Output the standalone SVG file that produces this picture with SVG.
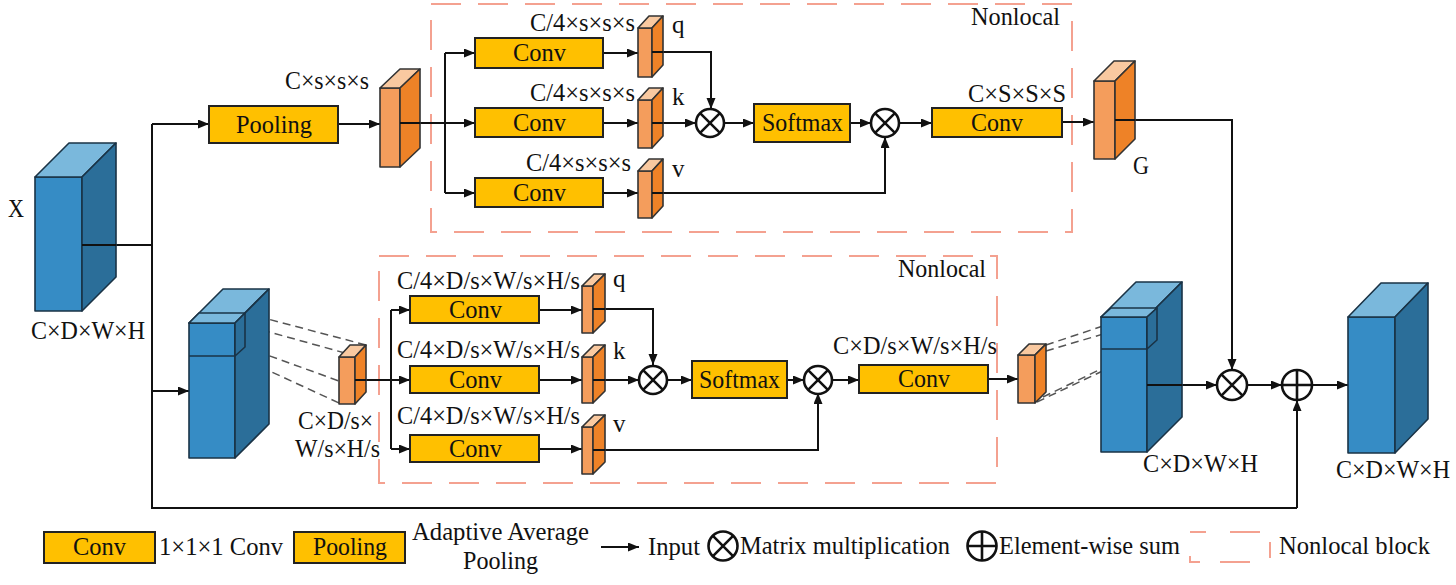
<svg xmlns="http://www.w3.org/2000/svg" width="1456" height="585" viewBox="0 0 1456 585">
<style>
.t{font-family:"Liberation Serif","Times New Roman",serif;font-size:25px;fill:#111}
.box{fill:#FFC000;stroke:#222;stroke-width:2}
.cf{fill:#368CC5;stroke:#1a3346;stroke-width:1.6;stroke-linejoin:round}
.ct{fill:#7AB8DC;stroke:#1a3346;stroke-width:1.6;stroke-linejoin:round}
.cs{fill:#2B6E99;stroke:#1a3346;stroke-width:1.6;stroke-linejoin:round}
.sf{fill:#F49D5C;stroke:#333;stroke-width:1.6;stroke-linejoin:round}
.st{fill:#F9C9A0;stroke:#333;stroke-width:1.6;stroke-linejoin:round}
.ss{fill:#EE8227;stroke:#333;stroke-width:1.6;stroke-linejoin:round}
.ln{fill:none;stroke:#111;stroke-width:2}
.ar{fill:none;stroke:#111;stroke-width:2;marker-end:url(#ah)}
.op{fill:#fff;stroke:#111;stroke-width:2.6}
.nl{fill:none;stroke:#F4A190;stroke-width:2;stroke-dasharray:30 17}
.gd{fill:none;stroke:#555;stroke-width:1.5;stroke-dasharray:8 5}
</style>
<defs>
<marker id="ah" markerWidth="12" markerHeight="10" refX="11" refY="4.5" orient="auto" markerUnits="userSpaceOnUse">
<path d="M0,0 L11,4.5 L0,9 z" fill="#111"/>
</marker>
</defs>
<rect width="1456" height="585" fill="#fff"/>

<!-- nonlocal blocks -->
<g id="nonlocal-top">
<rect class="nl" x="431" y="4" width="641" height="228"/>
<text class="t" x="971" y="25" textLength="89" lengthAdjust="spacingAndGlyphs">Nonlocal</text>
</g>
<g id="nonlocal-bottom">
<rect class="nl" x="379" y="256" width="618" height="227"/>
<text class="t" x="898" y="277" textLength="88" lengthAdjust="spacingAndGlyphs">Nonlocal</text>
</g>

<!-- connectors -->
<g id="connectors">
<path class="ln" d="M82,245 H152 M152,124 V508 H1297"/>
<path class="ar" d="M152,124 H209"/>
<path class="ar" d="M338,124 H380"/>
<path class="ln" d="M400,123 H445 M445,53 V193"/>
<path class="ar" d="M445,53 H475"/>
<path class="ar" d="M445,123 H475"/>
<path class="ar" d="M445,193 H475"/>
<path class="ar" d="M603,53 H638"/>
<path class="ar" d="M603,123 H638"/>
<path class="ar" d="M603,193 H638"/>
<path class="ar" d="M652,52 H711 V109"/>
<path class="ar" d="M652,123 H696"/>
<path class="ar" d="M724,123 H754"/>
<path class="ar" d="M850,123 H871"/>
<path class="ar" d="M652,193 H885 V137"/>
<path class="ar" d="M899,123 H932"/>
<path class="ar" d="M1062,122 H1094"/>
<path class="ar" d="M1115,120 H1232 V370"/>
<path class="ar" d="M152,391 H189"/>
<path class="ln" d="M355,380 H391 M391,310 V449"/>
<path class="ar" d="M391,310 H410"/>
<path class="ar" d="M391,380 H410"/>
<path class="ar" d="M391,449 H410"/>
<path class="ar" d="M539,310 H582"/>
<path class="ar" d="M539,380 H582"/>
<path class="ar" d="M539,449 H582"/>
<path class="ar" d="M593,309 H653 V365"/>
<path class="ar" d="M593,380 H639"/>
<path class="ar" d="M667,380 H692"/>
<path class="ar" d="M787,380 H804"/>
<path class="ar" d="M593,450 H818 V393"/>
<path class="ar" d="M832,380 H859"/>
<path class="ar" d="M988,379 H1018"/>
<path class="ar" d="M1147,385 H1217"/>
<path class="ar" d="M1247,385 H1282"/>
<path class="ar" d="M1312,385 H1348"/>
<path class="ar" d="M1297,508 V400"/>
<path class="gd" d="M245,313 L366,345 M237,323 L352,355 M245,347 L339,381 M237,356 L339,403"/>
<path class="gd" d="M1046,345 L1157,308 M1046,351 L1157,318 M1037,402 L1147,350 M1043,397 L1157,342"/>
</g>

<!-- input cube X -->
<g id="cube-x">
<rect class="cf" x="35" y="177" width="47" height="134"/>
<polygon class="ct" points="35,177 82,177 116,143 69,143"/>
<polygon class="cs" points="82,177 116,143 116,277 82,311"/>
<line class="ln" x1="82" y1="245" x2="116" y2="245"/>
<text class="t" x="8" y="217" textLength="16" lengthAdjust="spacingAndGlyphs">X</text>
<text class="t" x="31" y="339" textLength="114" lengthAdjust="spacingAndGlyphs">C×D×W×H</text>
</g>

<!-- top branch -->
<g id="pooling">
<rect class="box" x="209" y="106" width="129" height="37"/>
<text class="t" x="236" y="133" textLength="76" lengthAdjust="spacingAndGlyphs">Pooling</text>
</g>
<g id="pooled-top">
<rect class="sf" x="380" y="88" width="20" height="79"/>
<polygon class="st" points="380,88 400,88 420,69 400,69"/>
<polygon class="ss" points="400,88 420,69 420,148 400,167"/>
<line class="ln" x1="400" y1="123" x2="420" y2="123"/>
<text class="t" x="285" y="89" textLength="84" lengthAdjust="spacingAndGlyphs">C×s×s×s</text>
</g>
<g id="conv-q-top">
<rect class="box" x="475" y="38" width="128" height="30"/>
<text class="t" x="513" y="61" textLength="53" lengthAdjust="spacingAndGlyphs">Conv</text>
</g>
<g id="conv-k-top">
<rect class="box" x="475" y="108" width="128" height="29"/>
<text class="t" x="513" y="131" textLength="53" lengthAdjust="spacingAndGlyphs">Conv</text>
</g>
<g id="conv-v-top">
<rect class="box" x="475" y="178" width="128" height="29"/>
<text class="t" x="513" y="201" textLength="53" lengthAdjust="spacingAndGlyphs">Conv</text>
</g>
<g id="q-top">
<rect class="sf" x="638" y="28" width="14" height="49"/>
<polygon class="st" points="638,28 652,28 663,16 649,16"/>
<polygon class="ss" points="652,28 663,16 663,65 652,77"/>
<line class="ln" x1="652" y1="52" x2="663" y2="52"/>
<text class="t" x="530" y="31" textLength="105" lengthAdjust="spacingAndGlyphs">C/4×s×s×s</text>
<text class="t" x="672" y="33">q</text>
</g>
<g id="k-top">
<rect class="sf" x="638" y="100" width="14" height="48"/>
<polygon class="st" points="638,100 652,100 663,88 649,88"/>
<polygon class="ss" points="652,100 663,88 663,136 652,148"/>
<line class="ln" x1="652" y1="123" x2="663" y2="123"/>
<text class="t" x="530" y="101" textLength="105" lengthAdjust="spacingAndGlyphs">C/4×s×s×s</text>
<text class="t" x="672" y="105">k</text>
</g>
<g id="v-top">
<rect class="sf" x="638" y="171" width="14" height="47"/>
<polygon class="st" points="638,171 652,171 663,159 649,159"/>
<polygon class="ss" points="652,171 663,159 663,206 652,218"/>
<line class="ln" x1="652" y1="193" x2="663" y2="193"/>
<text class="t" x="526" y="171" textLength="105" lengthAdjust="spacingAndGlyphs">C/4×s×s×s</text>
<text class="t" x="672" y="177">v</text>
</g>
<g id="mul1-top">
<circle class="op" cx="710" cy="123" r="14"/>
<path class="ln" d="M700.1,113.1 L719.9,132.9 M719.9,113.1 L700.1,132.9" style="stroke-width:2.6"/>
</g>
<g id="softmax-top">
<rect class="box" x="754" y="104" width="96" height="38"/>
<text class="t" x="762" y="131" textLength="81" lengthAdjust="spacingAndGlyphs">Softmax</text>
</g>
<g id="mul2-top">
<circle class="op" cx="885" cy="123" r="14"/>
<path class="ln" d="M875.1,113.1 L894.9,132.9 M894.9,113.1 L875.1,132.9" style="stroke-width:2.6"/>
</g>
<g id="conv-out-top">
<rect class="box" x="932" y="108" width="130" height="29"/>
<text class="t" x="971" y="131" textLength="52" lengthAdjust="spacingAndGlyphs">Conv</text>
<text class="t" x="968" y="102" textLength="98" lengthAdjust="spacingAndGlyphs">C×S×S×S</text>
</g>
<g id="g-feature">
<rect class="sf" x="1094" y="81" width="21" height="78"/>
<polygon class="st" points="1094,81 1115,81 1135,61 1114,61"/>
<polygon class="ss" points="1115,81 1135,61 1135,139 1115,159"/>
<line class="ln" x1="1115" y1="120" x2="1135" y2="120"/>
<text class="t" x="1133" y="174" textLength="16" lengthAdjust="spacingAndGlyphs">G</text>
</g>

<!-- bottom branch -->
<g id="cube-split">
<rect class="cf" x="189" y="323" width="46" height="135"/>
<polygon class="ct" points="189,323 235,323 269,289 223,289"/>
<polygon class="cs" points="235,323 269,289 269,424 235,458"/>
<polygon class="ct" points="189,323 235,323 245,313 199,313"/>
<polygon class="cs" points="235,323 245,313 245,347 235,356"/>
<line x1="189" y1="356" x2="235" y2="356" stroke="#1a3346" stroke-width="1.6"/>
</g>
<g id="pooled-bottom">
<rect class="sf" x="339" y="357" width="16" height="47"/>
<polygon class="st" points="339,357 355,357 366,345 350,345"/>
<polygon class="ss" points="355,357 366,345 366,392 355,404"/>
<line class="ln" x1="355" y1="380" x2="366" y2="380"/>
<text class="t" x="298" y="429" textLength="75" lengthAdjust="spacingAndGlyphs">C×D/s×</text>
<text class="t" x="295" y="457" textLength="85" lengthAdjust="spacingAndGlyphs">W/s×H/s</text>
</g>
<g id="conv-q-bottom">
<rect class="box" x="410" y="296" width="129" height="27"/>
<text class="t" x="449" y="318" textLength="53" lengthAdjust="spacingAndGlyphs">Conv</text>
</g>
<g id="conv-k-bottom">
<rect class="box" x="410" y="366" width="129" height="27"/>
<text class="t" x="449" y="388" textLength="53" lengthAdjust="spacingAndGlyphs">Conv</text>
</g>
<g id="conv-v-bottom">
<rect class="box" x="410" y="435" width="129" height="27"/>
<text class="t" x="449" y="457" textLength="53" lengthAdjust="spacingAndGlyphs">Conv</text>
</g>
<g id="q-bottom">
<rect class="sf" x="582" y="286" width="11" height="47"/>
<polygon class="st" points="582,286 593,286 605,274 594,274"/>
<polygon class="ss" points="593,286 605,274 605,321 593,333"/>
<line class="ln" x1="593" y1="309" x2="605" y2="309"/>
<text class="t" x="397" y="289" textLength="183" lengthAdjust="spacingAndGlyphs">C/4×D/s×W/s×H/s</text>
<text class="t" x="613" y="287">q</text>
</g>
<g id="k-bottom">
<rect class="sf" x="582" y="357" width="11" height="46"/>
<polygon class="st" points="582,357 593,357 605,345 594,345"/>
<polygon class="ss" points="593,357 605,345 605,391 593,403"/>
<line class="ln" x1="593" y1="380" x2="605" y2="380"/>
<text class="t" x="397" y="358" textLength="183" lengthAdjust="spacingAndGlyphs">C/4×D/s×W/s×H/s</text>
<text class="t" x="613" y="359">k</text>
</g>
<g id="v-bottom">
<rect class="sf" x="582" y="427" width="11" height="47"/>
<polygon class="st" points="582,427 593,427 605,415 594,415"/>
<polygon class="ss" points="593,427 605,415 605,462 593,474"/>
<line class="ln" x1="593" y1="450" x2="605" y2="450"/>
<text class="t" x="397" y="424" textLength="183" lengthAdjust="spacingAndGlyphs">C/4×D/s×W/s×H/s</text>
<text class="t" x="613" y="432">v</text>
</g>
<g id="mul1-bottom">
<circle class="op" cx="653" cy="380" r="14"/>
<path class="ln" d="M643.1,370.1 L662.9,389.9 M662.9,370.1 L643.1,389.9" style="stroke-width:2.6"/>
</g>
<g id="softmax-bottom">
<rect class="box" x="692" y="361" width="95" height="37"/>
<text class="t" x="699" y="388" textLength="81" lengthAdjust="spacingAndGlyphs">Softmax</text>
</g>
<g id="mul2-bottom">
<circle class="op" cx="818" cy="380" r="14"/>
<path class="ln" d="M808.1,370.1 L827.9,389.9 M827.9,370.1 L808.1,389.9" style="stroke-width:2.6"/>
</g>
<g id="conv-out-bottom">
<rect class="box" x="859" y="365" width="129" height="28"/>
<text class="t" x="898" y="387" textLength="52" lengthAdjust="spacingAndGlyphs">Conv</text>
<text class="t" x="833" y="354" textLength="164" lengthAdjust="spacingAndGlyphs">C×D/s×W/s×H/s</text>
</g>
<g id="out-slab-bottom">
<rect class="sf" x="1018" y="355" width="17" height="48"/>
<polygon class="st" points="1018,355 1035,355 1046,344 1029,344"/>
<polygon class="ss" points="1035,355 1046,344 1046,392 1035,403"/>
</g>
<g id="cube-merge">
<rect class="cf" x="1101" y="317" width="46" height="135"/>
<polygon class="ct" points="1101,317 1147,317 1182,282 1136,282"/>
<polygon class="cs" points="1147,317 1182,282 1182,417 1147,452"/>
<polygon class="ct" points="1101,317 1147,317 1157,308 1111,308"/>
<polygon class="cs" points="1147,317 1157,308 1157,340 1147,349"/>
<line x1="1101" y1="349" x2="1147" y2="349" stroke="#1a3346" stroke-width="1.6"/>
<line class="ln" x1="1147" y1="385" x2="1182" y2="385"/>
<text class="t" x="1143" y="472" textLength="115" lengthAdjust="spacingAndGlyphs">C×D×W×H</text>
</g>
<g id="mul-g">
<circle class="op" cx="1232" cy="385" r="15"/>
<path class="ln" d="M1221.4,374.4 L1242.6,395.6 M1242.6,374.4 L1221.4,395.6" style="stroke-width:2.6"/>
</g>
<g id="sum">
<circle class="op" cx="1297" cy="385" r="15"/>
<path class="ln" d="M1282,385 H1312 M1297,370 V400" style="stroke-width:2.6"/>
</g>
<g id="cube-out">
<rect class="cf" x="1348" y="317" width="47" height="136"/>
<polygon class="ct" points="1348,317 1395,317 1428,283 1381,283"/>
<polygon class="cs" points="1395,317 1428,283 1428,419 1395,453"/>
<text class="t" x="1336" y="478" textLength="114" lengthAdjust="spacingAndGlyphs">C×D×W×H</text>
</g>

<!-- legend -->
<g id="legend">
<rect class="box" x="44" y="532" width="111" height="31"/>
<text class="t" x="73" y="555" textLength="53" lengthAdjust="spacingAndGlyphs">Conv</text>
<text class="t" x="159" y="555" textLength="124" lengthAdjust="spacingAndGlyphs">1×1×1 Conv</text>
<rect class="box" x="294" y="532" width="111" height="31"/>
<text class="t" x="313" y="555" textLength="74" lengthAdjust="spacingAndGlyphs">Pooling</text>
<text class="t" x="412" y="540" textLength="177" lengthAdjust="spacingAndGlyphs">Adaptive Average</text>
<text class="t" x="463" y="569" textLength="75" lengthAdjust="spacingAndGlyphs">Pooling</text>
<path class="ar" d="M601,547 H639"/>
<text class="t" x="648" y="555" textLength="52" lengthAdjust="spacingAndGlyphs">Input</text>
<circle class="op" cx="723" cy="546" r="14.5"/>
<path class="ln" d="M712.7,535.7 L733.3,556.3 M733.3,535.7 L712.7,556.3" style="stroke-width:2.6"/>
<text class="t" x="740" y="554" textLength="210" lengthAdjust="spacingAndGlyphs">Matrix multiplication</text>
<circle class="op" cx="982" cy="546" r="14.5"/>
<path class="ln" d="M967.5,546 H996.5 M982,531.5 V560.5" style="stroke-width:2.6"/>
<text class="t" x="999" y="554" textLength="181" lengthAdjust="spacingAndGlyphs">Element-wise sum</text>
<rect x="1190" y="532" width="80" height="30" fill="none" stroke="#F4A190" stroke-width="2" stroke-dasharray="16 24 30 20"/>
<text class="t" x="1279" y="554" textLength="151" lengthAdjust="spacingAndGlyphs">Nonlocal block</text>
</g>
</svg>
